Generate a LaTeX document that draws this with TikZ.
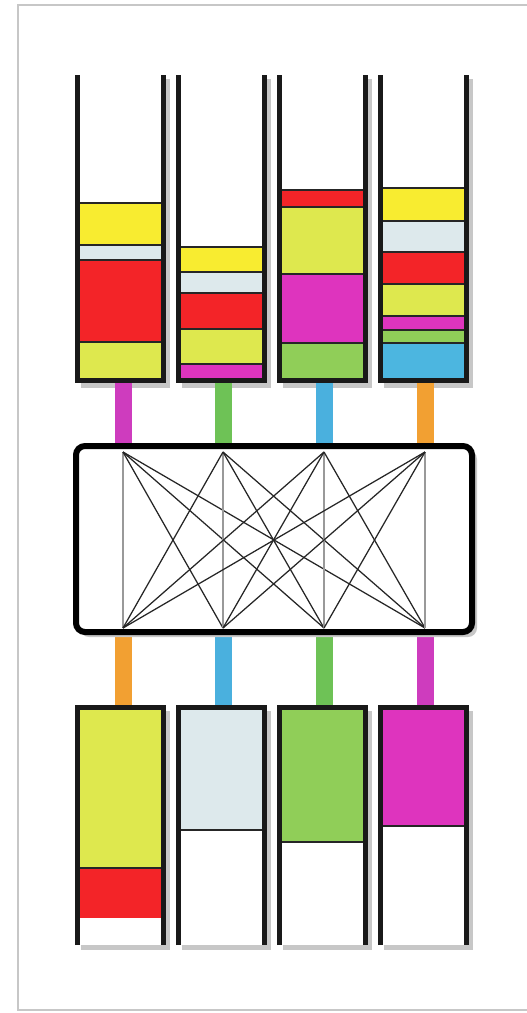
\documentclass[tikz,border=0pt]{standalone}
\usepackage{xcolor}
\usepackage{tikz}
\usetikzlibrary{arrows.meta,positioning}

\definecolor{bandYellow}{RGB}{248,236,48}
\definecolor{bandIce}{RGB}{221,233,236}
\definecolor{bandRed}{RGB}{243,36,40}
\definecolor{bandLime}{RGB}{222,232,78}
\definecolor{bandMagenta}{RGB}{222,52,190}
\definecolor{bandGreen}{RGB}{144,206,88}
\definecolor{bandCyan}{RGB}{76,182,224}
\definecolor{barOrange}{RGB}{242,160,50}
\definecolor{barGreen}{RGB}{110,194,86}
\definecolor{barCyan}{RGB}{74,176,222}
\definecolor{barMagenta}{RGB}{206,60,190}

\begin{document}
\begin{tikzpicture}[x=1pt, y=-1pt,
  band/.style={draw=black!85, line width=1.8pt},
  wall/.style={draw=black!90, line width=5pt, line join=miter},
  shade/.style={fill=black!22},
  link/.style={line width=17pt}]
\useasboundingbox (0,0) rectangle (527,1013);
% outer frame
\draw[black!22, line width=2pt] (18,5) rectangle (545,1010);

% --- top tubes: shadows and white insides
\fill[shade] (81,79) rectangle (170,388);
\fill[shade] (182,79) rectangle (271,388);
\fill[shade] (283,79) rectangle (372,388);
\fill[shade] (384,79) rectangle (473,388);
\fill[white] (80,75) rectangle (161,381);
\fill[white] (181,75) rectangle (262,381);
\fill[white] (282,75) rectangle (363,381);
\fill[white] (383,75) rectangle (464,381);
% tube 1
\draw[band, fill=bandYellow] (78,203) rectangle (163,245);
\draw[band, fill=bandIce] (78,245) rectangle (163,260);
\draw[band, fill=bandRed] (78,260) rectangle (163,342);
\draw[band, fill=bandLime] (78,342) rectangle (163,381);
% tube 2
\draw[band, fill=bandYellow] (179,247) rectangle (264,272);
\draw[band, fill=bandIce] (179,272) rectangle (264,293);
\draw[band, fill=bandRed] (179,293) rectangle (264,329);
\draw[band, fill=bandLime] (179,329) rectangle (264,364);
\draw[band, fill=bandMagenta] (179,364) rectangle (264,381);
% tube 3
\draw[band, fill=bandRed] (280,190) rectangle (365,207);
\draw[band, fill=bandLime] (280,207) rectangle (365,274);
\draw[band, fill=bandMagenta] (280,274) rectangle (365,343);
\draw[band, fill=bandGreen] (280,343) rectangle (365,381);
% tube 4
\draw[band, fill=bandYellow] (381,188) rectangle (466,221);
\draw[band, fill=bandIce] (381,221) rectangle (466,252);
\draw[band, fill=bandRed] (381,252) rectangle (466,284);
\draw[band, fill=bandLime] (381,284) rectangle (466,316);
\draw[band, fill=bandMagenta] (381,316) rectangle (466,330);
\draw[band, fill=bandGreen] (381,330) rectangle (466,343);
\draw[band, fill=bandCyan] (381,343) rectangle (466,381);
% walls
\draw[wall] (77.5,75) -- (77.5,380.5) -- (163.5,380.5) -- (163.5,75);
\draw[wall] (178.5,75) -- (178.5,380.5) -- (264.5,380.5) -- (264.5,75);
\draw[wall] (279.5,75) -- (279.5,380.5) -- (365.5,380.5) -- (365.5,75);
\draw[wall] (380.5,75) -- (380.5,380.5) -- (466.5,380.5) -- (466.5,75);

% --- connection points
\coordinate (up1) at (123,383);
\coordinate (up2) at (223,383);
\coordinate (up3) at (324,383);
\coordinate (up4) at (425,383);
\coordinate (in1) at (123,446);
\coordinate (in2) at (223,446);
\coordinate (in3) at (324,446);
\coordinate (in4) at (425,446);
\coordinate (out1) at (123,632);
\coordinate (out2) at (223,632);
\coordinate (out3) at (324,632);
\coordinate (out4) at (425,632);
\coordinate (dn1) at (123,708);
\coordinate (dn2) at (223,708);
\coordinate (dn3) at (324,708);
\coordinate (dn4) at (425,708);
\coordinate (top1) at (123,452);
\coordinate (top2) at (223,452);
\coordinate (top3) at (324,452);
\coordinate (top4) at (425,452);
\coordinate (bot1) at (123,628);
\coordinate (bot2) at (223,628);
\coordinate (bot3) at (324,628);
\coordinate (bot4) at (425,628);

% colored links into and out of the switch
\draw[link, barMagenta] (up1) -- (in1);
\draw[link, barGreen] (up2) -- (in2);
\draw[link, barCyan] (up3) -- (in3);
\draw[link, barOrange] (up4) -- (in4);
\draw[link, barOrange] (out1) -- (dn1);
\draw[link, barCyan] (out2) -- (dn2);
\draw[link, barGreen] (out3) -- (dn3);
\draw[link, barMagenta] (out4) -- (dn4);

% --- switch box
\fill[shade, rounded corners=9pt] (80,450) rectangle (477,637);
\fill[white, rounded corners=9pt] (76,446) rectangle (472,632);
\foreach \i in {1,...,4} {
  \draw[black!40, line width=1.8pt] (top\i) -- (bot\i);
  \foreach \j in {1,...,4} {
    \ifnum\i=\j\else
      \draw[black!85, line width=1.25pt] (top\i) -- (bot\j);
    \fi
  }
}
\draw[black, line width=6pt, rounded corners=9pt] (76,446) rectangle (472,632);

% --- bottom tubes: shadows and white insides
\fill[shade] (81,711) rectangle (170,950);
\fill[shade] (182,711) rectangle (271,950);
\fill[shade] (283,711) rectangle (372,950);
\fill[shade] (384,711) rectangle (473,950);
\fill[white] (80,710) rectangle (161,945);
\fill[white] (181,710) rectangle (262,945);
\fill[white] (282,710) rectangle (363,945);
\fill[white] (383,710) rectangle (464,945);
% tube 1
\fill[bandRed] (78,868) rectangle (163,918);
\draw[band, fill=bandLime] (78,708) rectangle (163,868);
% tube 2
\draw[band, fill=bandIce] (179,708) rectangle (264,830);
% tube 3
\draw[band, fill=bandGreen] (280,708) rectangle (365,842);
% tube 4
\draw[band, fill=bandMagenta] (381,708) rectangle (466,826);
% walls
\draw[wall] (77.5,945) -- (77.5,707.5) -- (163.5,707.5) -- (163.5,945);
\draw[wall] (178.5,945) -- (178.5,707.5) -- (264.5,707.5) -- (264.5,945);
\draw[wall] (279.5,945) -- (279.5,707.5) -- (365.5,707.5) -- (365.5,945);
\draw[wall] (380.5,945) -- (380.5,707.5) -- (466.5,707.5) -- (466.5,945);
\end{tikzpicture}
\end{document}
